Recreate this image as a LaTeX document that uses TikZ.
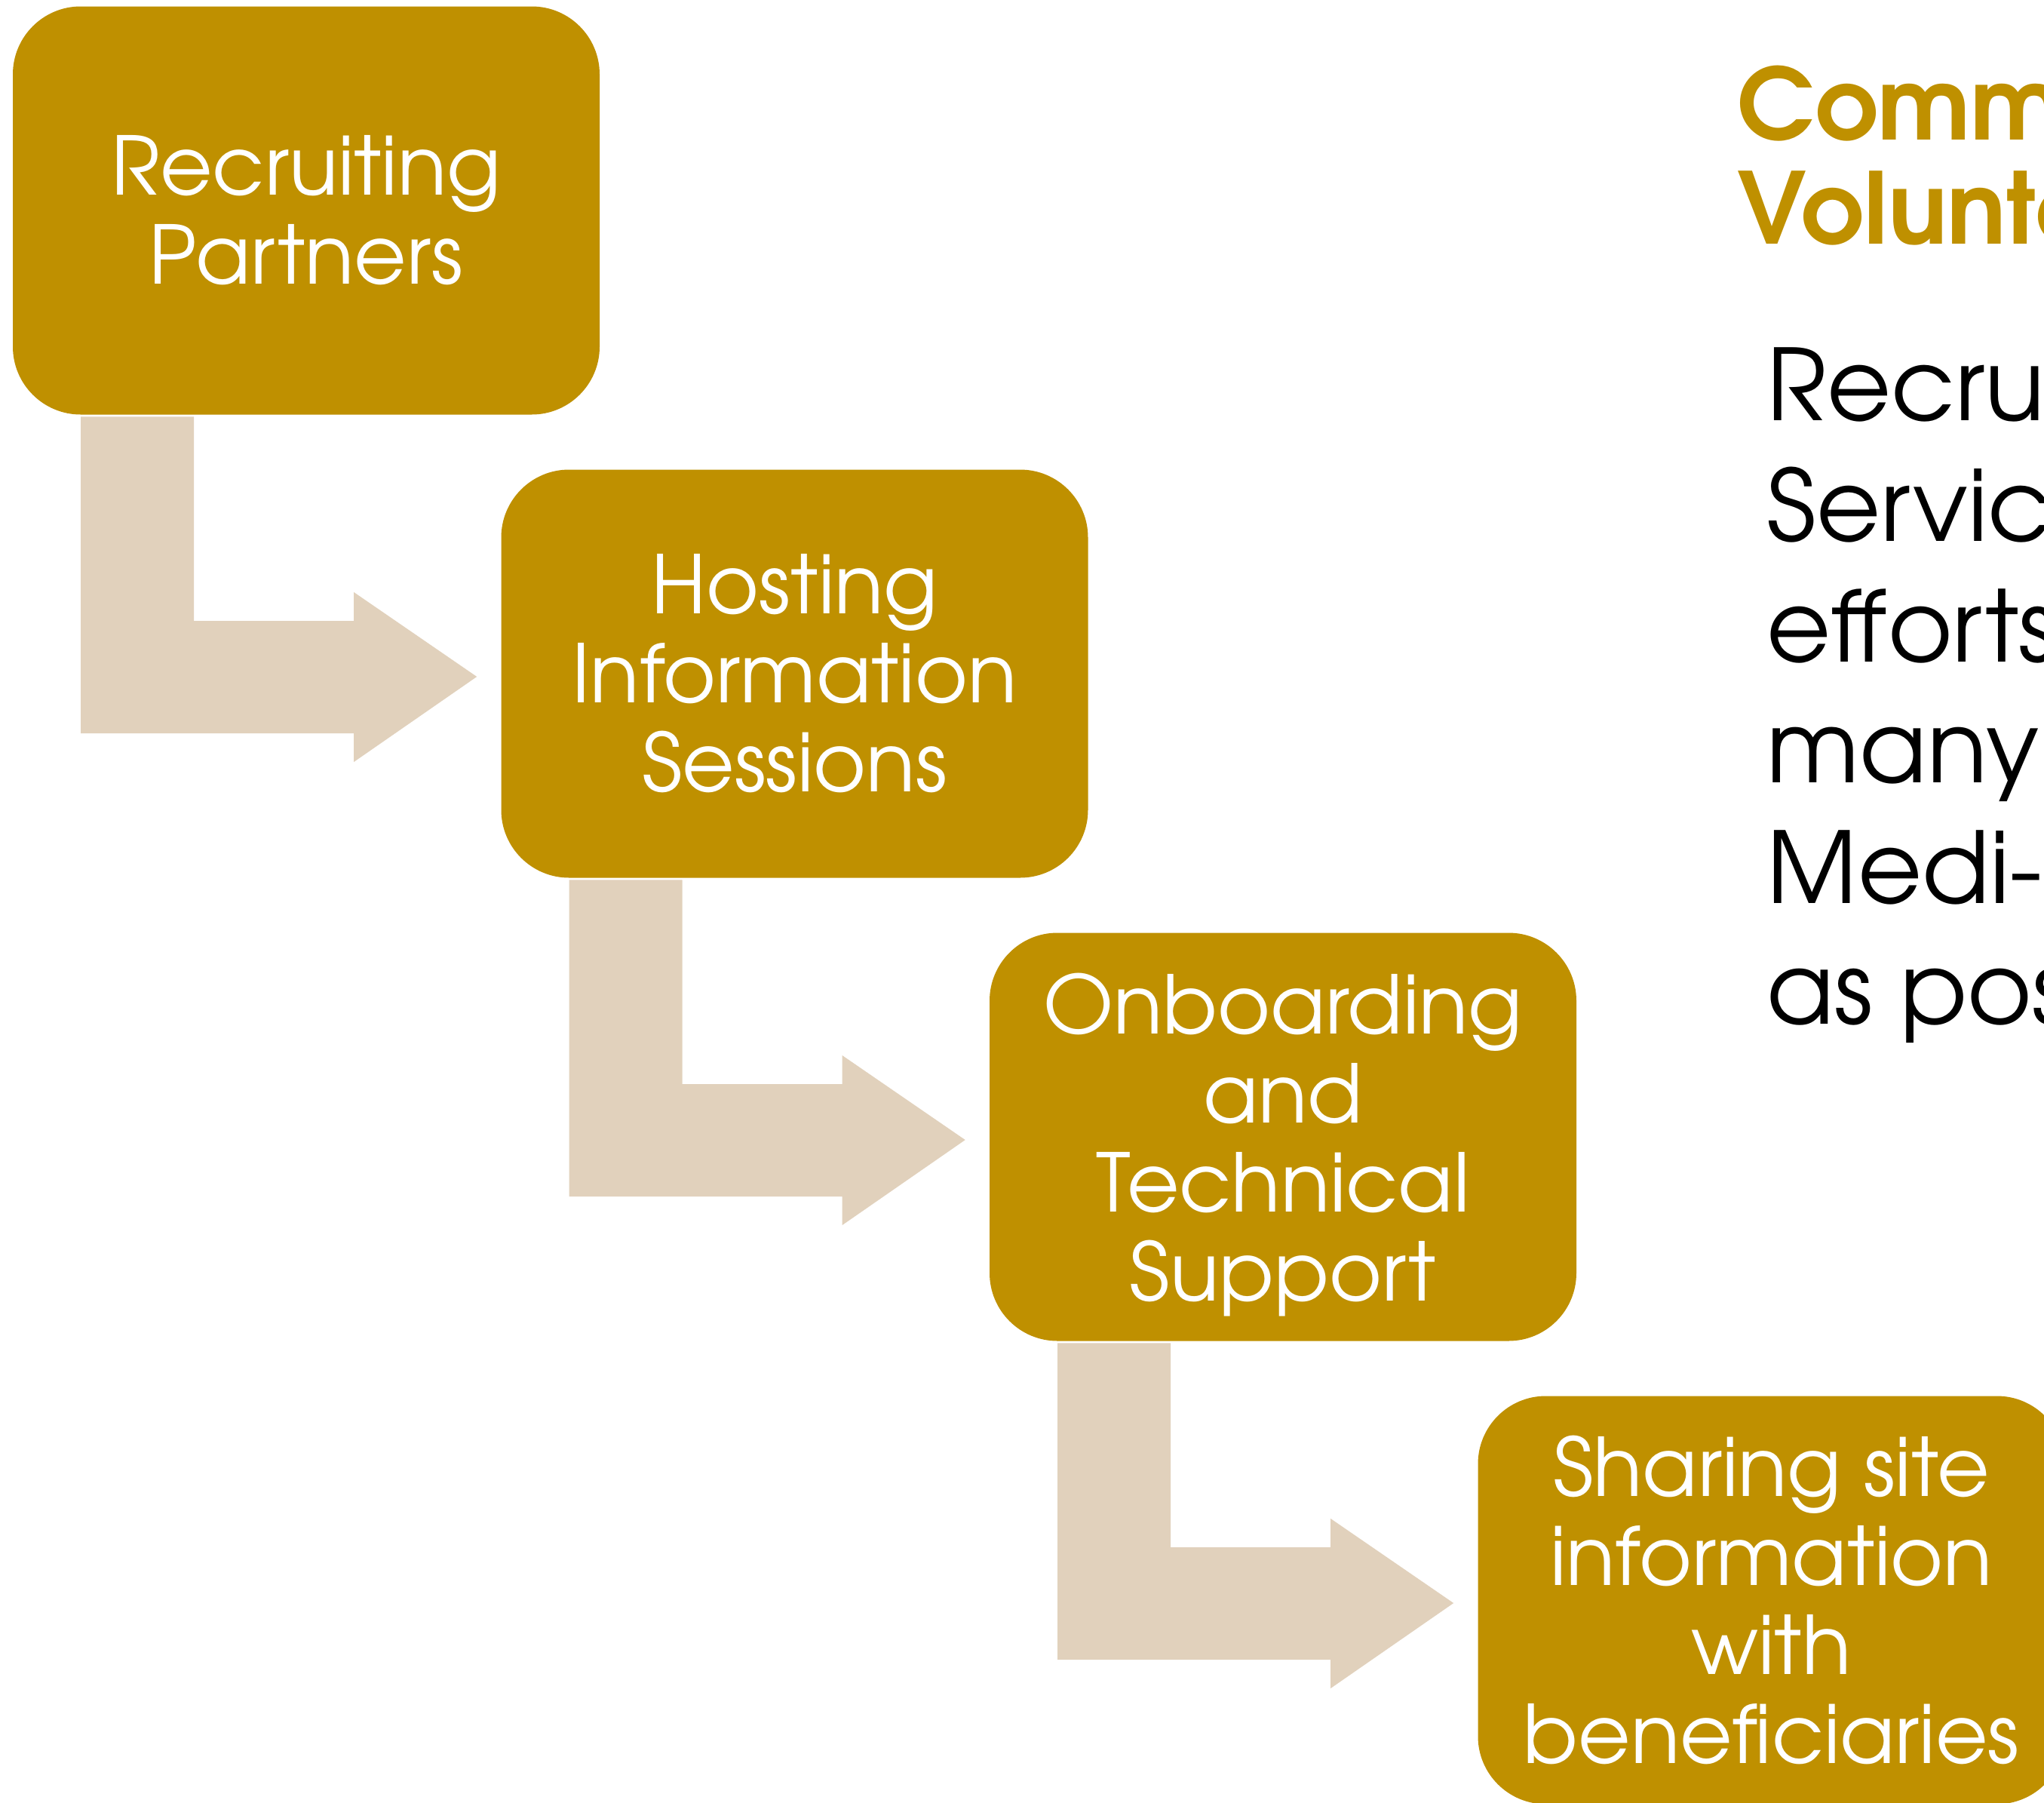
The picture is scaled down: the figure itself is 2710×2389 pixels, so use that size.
\documentclass[tikz,border=0pt]{standalone}
\usepackage{fontspec}
\setmainfont{texgyreadventor}[Extension=.otf,UprightFont=*-regular,BoldFont=*-bold]
\usetikzlibrary{calc}
\definecolor{gold}{HTML}{BF9000}
\definecolor{tan}{HTML}{E1D1BC}
\tikzset{
  stepbox/.style={fill=gold, draw=none, rounded corners=22.5pt, minimum width=194.5pt,
    minimum height=135.25pt, inner sep=0pt, align=center, text=white,
    font=\fontsize{26.75pt}{29.5pt}\selectfont},
  bodyline/.style={anchor=base west, inner sep=0pt, text=black,
    font=\fontsize{32.75pt}{40pt}\selectfont},
  titleline/.style={anchor=base west, inner sep=0pt, text=gold,
    font=\bfseries\fontsize{32.75pt}{40pt}\selectfont},
  arrowfill/.style={fill=tan, draw=none}
}
\newcommand{\bentarrow}[2]{%
  \fill[arrowfill] ($(#1.south west)+(91,2)$) -- ($(#1.south west)+(241,2)$)
    |- ($(#2.west)+(-194.5,-70)$) -- ($(#2.west)+(-194.5,-108)$)
    -- ($(#2.west)+(-31.5,4)$) -- ($(#2.west)+(-194.5,117)$)
    -- ($(#2.west)+(-194.5,79)$) -| ($(#1.south west)+(91,2)$) -- cycle;}
\begin{document}
\begin{tikzpicture}[x=0.25pt,y=-0.25pt]
\useasboundingbox (0,0) rectangle (2710,2389);
\clip (0,0) rectangle (2710,2389);
\node[stepbox] (b1) at (406,279) {Recruiting\\Partners};
\node[stepbox] (b2) at (1053.5,893) {Hosting\\Information\\Sessions};
\node[stepbox] (b3) at (1701,1507) {Onboarding\\and\\Technical\\\smash{Support}};
\node[stepbox] (b4) at (2348.5,2121) {Sharing site\\information\\with\\beneficiaries};
\bentarrow{b1}{b2}
\bentarrow{b2}{b3}
\bentarrow{b3}{b4}
\node[titleline] (t1) at (2303,185) {Community};
\node[titleline] (t2) at (2303,323) {Volunteers};
\node[bodyline] (l1) at (2342,557) {Recruiting};
\node[bodyline] (l2) at (2342,717) {Service};
\node[bodyline] (l3) at (2342,877) {efforts};
\node[bodyline] (l4) at (2342,1037) {many};
\node[bodyline] (l5) at (2342,1197) {Medi-Cal};
\node[bodyline] (l6) at (2342,1357) {as possible};
\end{tikzpicture}
\end{document}
